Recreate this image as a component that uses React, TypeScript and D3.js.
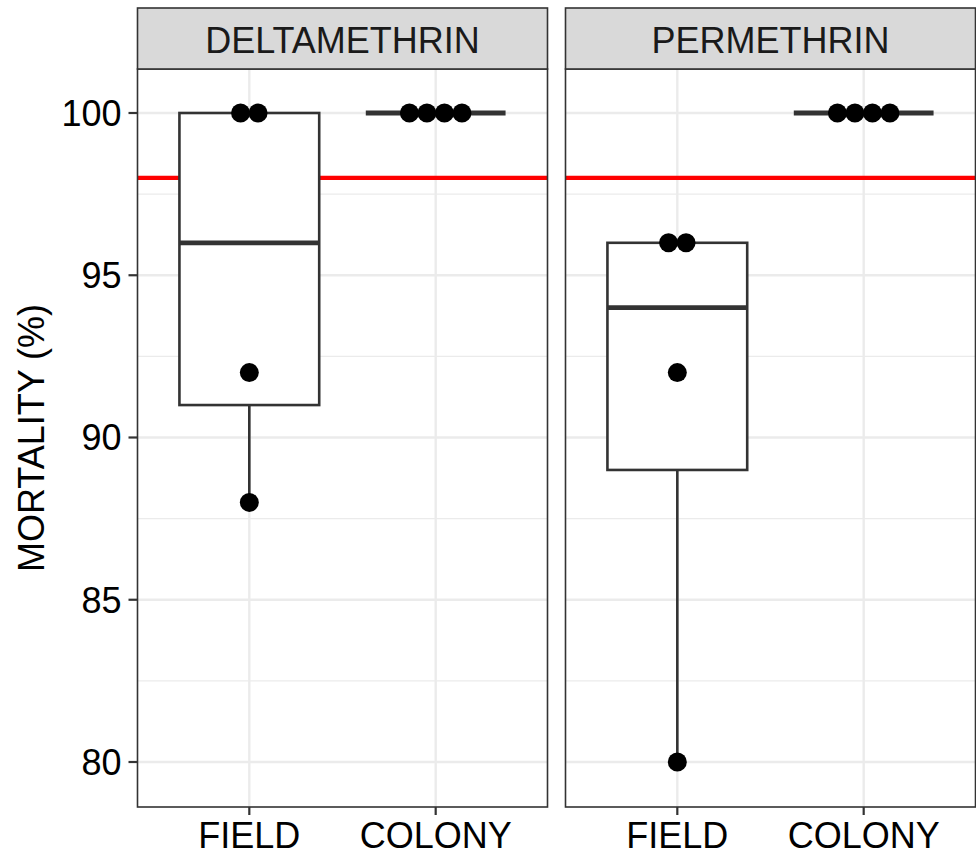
import React from "react";
import * as d3 from "d3";

// Bioassay mortality (%) per insecticide and mosquito source
const insecticides = ["DELTAMETHRIN", "PERMETHRIN"];
const sources = ["FIELD", "COLONY"];
const deltaField = [88, 92, 100, 100];
const deltaColony = [100, 100, 100, 100];
const permField = [80, 92, 96, 96];
const permColony = [100, 100, 100, 100];
const threshold = 98;
const yTicks = [80, 85, 90, 95, 100];
const yMinor = [82.5, 87.5, 92.5, 97.5];

const seriesByPanel: number[][][] = [
  [deltaField, deltaColony],
  [permField, permColony],
];

const W = 976;
const H = 856;
const stripTop = 8;
const stripBottom = 69;
const plotBottom = 807;
const panelX = [137.5, 565.5];
const panelW = 410;
const font = "'Liberation Sans', Arial, sans-serif";
const fs = 36;
const dotR = 9.5;
const dotStep = 17.5;

function stats(v: number[]) {
  const s = [...v].sort((a, b) => a - b);
  const q1 = d3.quantile(s, 0.25)!;
  const med = d3.quantile(s, 0.5)!;
  const q3 = d3.quantile(s, 0.75)!;
  const iqr = q3 - q1;
  const lo = d3.min(s.filter((d) => d >= q1 - 1.5 * iqr))!;
  const hi = d3.max(s.filter((d) => d <= q3 + 1.5 * iqr))!;
  return { q1, med, q3, lo, hi };
}

// Spread tied values side by side, centred on the category
function swarm(v: number[]) {
  const groups = d3.group(v, (d) => d);
  const out: { value: number; offset: number }[] = [];
  groups.forEach((arr, value) => {
    const n = arr.length;
    arr.forEach((_, i) => out.push({ value, offset: (i - (n - 1) / 2) * dotStep }));
  });
  return out;
}

export default function App() {
  // y: 100 -> 113px, 80 -> 762px
  const pxPerUnit = (762 - 113) / 20;
  const yTop = 100 + (113 - stripBottom) / pxPerUnit;
  const yBot = 80 - (plotBottom - 762) / pxPerUnit;
  const y = d3.scaleLinear().domain([yBot, yTop]).range([plotBottom, stripBottom]);

  return (
    <svg
      width={W}
      height={H}
      style={{ position: "absolute", left: 0, top: 0, background: "#fff" }}
      fontFamily={font}
    >
      <rect x={0} y={0} width={W} height={H} fill="#fff" />
      {insecticides.map((name, pi) => {
        const x0 = panelX[pi];
        // discrete positions with 0.6 unit expansion on each side
        const x = d3
          .scalePoint<string>()
          .domain(sources)
          .range([x0, x0 + panelW])
          .padding(0.6);
        const unit = x.step();
        const cx = (s: string) => x(s)!;
        const boxW = 0.75 * unit;
        return (
          <g key={name}>
            {/* grid */}
            {yMinor.map((t) => (
              <line key={"m" + t} x1={x0} x2={x0 + panelW} y1={y(t)} y2={y(t)} stroke="#EBEBEB" strokeWidth={1.2} />
            ))}
            {yTicks.map((t) => (
              <line key={"g" + t} x1={x0} x2={x0 + panelW} y1={y(t)} y2={y(t)} stroke="#EBEBEB" strokeWidth={2.4} />
            ))}
            {sources.map((s) => (
              <line key={"v" + s} x1={cx(s)} x2={cx(s)} y1={stripBottom} y2={plotBottom} stroke="#EBEBEB" strokeWidth={2.4} />
            ))}
            {/* threshold */}
            <line x1={x0} x2={x0 + panelW} y1={y(threshold)} y2={y(threshold)} stroke="#FF0000" strokeWidth={4.4} />
            {/* boxes */}
            {sources.map((s, si) => {
              const st = stats(seriesByPanel[pi][si]);
              const c = cx(s);
              return (
                <g key={"b" + s} stroke="#333333" fill="none">
                  <line x1={c} x2={c} y1={y(st.hi)} y2={y(st.q3)} strokeWidth={2.6} />
                  <line x1={c} x2={c} y1={y(st.q1)} y2={y(st.lo)} strokeWidth={2.6} />
                  <rect
                    x={c - boxW / 2}
                    y={y(st.q3)}
                    width={boxW}
                    height={Math.max(0, y(st.q1) - y(st.q3))}
                    fill="#fff"
                    strokeWidth={2.6}
                  />
                  <line x1={c - boxW / 2} x2={c + boxW / 2} y1={y(st.med)} y2={y(st.med)} strokeWidth={4.8} />
                </g>
              );
            })}
            {/* points */}
            {sources.map((s, si) =>
              swarm(seriesByPanel[pi][si]).map((p, k) => (
                <circle key={s + k} cx={cx(s) + p.offset} cy={y(p.value)} r={dotR} fill="#000" />
              ))
            )}
            {/* panel border */}
            <rect x={x0} y={stripBottom} width={panelW} height={plotBottom - stripBottom} fill="none" stroke="#333333" strokeWidth={1.6} />
            {/* strip */}
            <rect x={x0} y={stripTop} width={panelW} height={stripBottom - stripTop} fill="#D9D9D9" stroke="#333333" strokeWidth={1.6} />
            <text x={x0 + panelW / 2} y={53} textAnchor="middle" fontSize={fs} fill="#1A1A1A">
              {name}
            </text>
            {/* x axis */}
            {sources.map((s) => (
              <g key={"xt" + s}>
                <line x1={cx(s)} x2={cx(s)} y1={plotBottom} y2={plotBottom + 8} stroke="#333333" strokeWidth={2.2} />
                <text x={cx(s)} y={848} textAnchor="middle" fontSize={fs} fill="#000">
                  {s}
                </text>
              </g>
            ))}
          </g>
        );
      })}
      {/* y axis */}
      {yTicks.map((t) => (
        <g key={"yt" + t}>
          <line x1={panelX[0] - 9} x2={panelX[0]} y1={y(t)} y2={y(t)} stroke="#333333" strokeWidth={2.2} />
          <text x={panelX[0] - 16} y={y(t)} dy="0.36em" textAnchor="end" fontSize={fs} fill="#000">
            {t}
          </text>
        </g>
      ))}
      <text
        transform={`translate(44,${(stripBottom + plotBottom) / 2}) rotate(-90)`}
        textAnchor="middle"
        fontSize={fs}
        fill="#000"
      >
        MORTALITY (%)
      </text>
    </svg>
  );
}
